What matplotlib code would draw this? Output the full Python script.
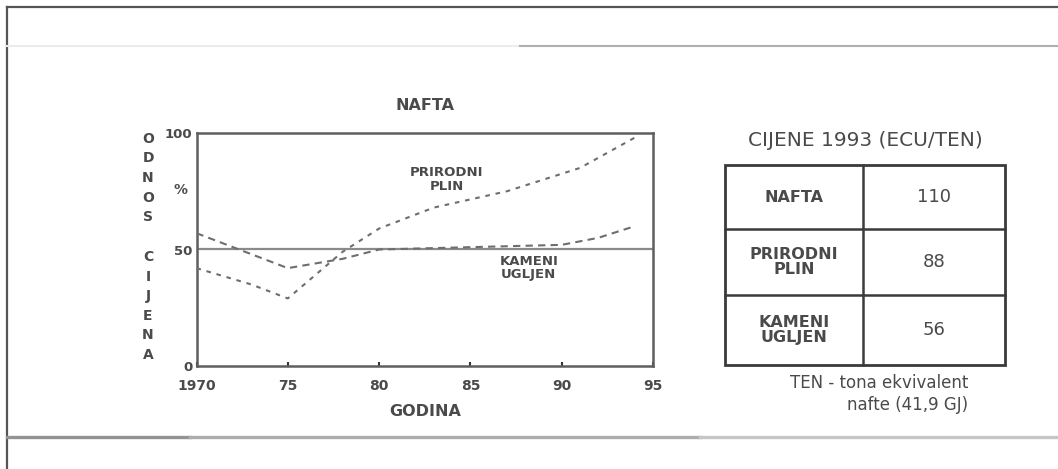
import matplotlib
matplotlib.use("Agg")
import matplotlib.pyplot as plt
from matplotlib.patches import Rectangle

# ---------------- data ----------------
gas_years = [1970, 1973, 1975, 1978, 1980, 1983, 1987, 1991, 1994]
gas_values = [42, 35, 29, 49, 59, 68, 75, 85, 98]

coal_years = [1970, 1972, 1975, 1978, 1980, 1985, 1990, 1992, 1994]
coal_values = [57, 51, 42, 46, 50, 51, 52, 55, 60]

ref_level = 50  # solid reference line

x_ticks = [1970, 1975, 1980, 1985, 1990, 1995]
x_tick_labels = ["1970", "75", "80", "85", "90", "95"]
y_ticks = [0, 50, 100]
y_tick_labels = ["0", "50", "100"]

chart_title = "NAFTA"
x_label = "GODINA"
y_label_top = "ODNOS"
y_label_bottom = "CIJENA"
gas_label = "PRIRODNI\nPLIN"
coal_label = "KAMENI\nUGLJEN"

table_title = "CIJENE 1993 (ECU/TEN)"
table_fuels = ["NAFTA", "PRIRODNI\nPLIN", "KAMENI\nUGLJEN"]
table_prices = ["110", "88", "56"]
table_note_1 = "TEN - tona ekvivalent"
table_note_2 = "nafte (41,9 GJ)"

# ---------------- style ----------------
W, H = 1058, 469
TXT = "#4a4a4a"
LINE = "#6e6e6e"
plt.rcParams["font.family"] = ["DejaVu Sans"]

fig = plt.figure(figsize=(W / 100, H / 100), dpi=100)
fig.patch.set_facecolor("white")

def fx(px):
    return px / W

def fy(py):
    return 1 - py / H

# main chart axes (pixel box 196.5..653 x 133..366)
ax = fig.add_axes([fx(196.5), fy(366), fx(653) - fx(196.5), fy(133) - fy(366)])
ax.set_xlim(1970, 1995)
ax.set_ylim(0, 100)

ax.axhline(ref_level, color="#8a8a8a", lw=1.6, zorder=2)
ax.plot(gas_years, gas_values, color=LINE, lw=1.5, dashes=(2.2, 2.8), zorder=3)
ax.plot(coal_years, coal_values, color=LINE, lw=1.5, dashes=(3.5, 2.5), zorder=3)

for s in ax.spines.values():
    s.set_color("#5e5e5e")
    s.set_linewidth(1.8)

ax.set_xticks(x_ticks)
ax.set_xticklabels(x_tick_labels)
ax.set_yticks(y_ticks)
ax.set_yticklabels(y_tick_labels)
ax.tick_params(axis="x", direction="in", length=3, width=1.5, color="#333333",
               pad=9, labelsize=10, labelcolor=TXT)
ax.tick_params(axis="y", length=0, pad=3, labelsize=9.5, labelcolor=TXT)
for lab in ax.get_xticklabels() + ax.get_yticklabels():
    lab.set_fontweight("bold")

ax.text(1983.7, 80, gas_label, ha="center", va="center", fontsize=9.5,
        fontweight="bold", color=TXT, linespacing=1.1)
ax.text(1988.2, 42, coal_label, ha="center", va="center", fontsize=9.5,
        fontweight="bold", color=TXT, linespacing=1.0)

# overlay in pixel coordinates for frame, labels and table
ov = fig.add_axes([0, 0, 1, 1])
ov.set_xlim(0, W)
ov.set_ylim(H, 0)
ov.axis("off")
ov.patch.set_alpha(0)

# page frame lines
ov.plot([7, W], [7, 7], color="#555555", lw=1.6)
ov.plot([7, 7], [7, H], color="#555555", lw=1.6)
ov.plot([7, 520], [46.5, 46.5], color="#ececec", lw=1.5)
ov.plot([520, W], [46.5, 46.5], color="#b0b0b0", lw=1.5)
ov.plot([7, 190], [437, 437], color="#939393", lw=2.4)
ov.plot([190, 700], [437, 437], color="#adadad", lw=2.4)
ov.plot([700, W], [437, 437], color="#c6c6c6", lw=2.4)

# chart title, axis labels
ov.text(425, 105, chart_title, ha="center", va="center", fontsize=11.5,
        fontweight="bold", color=TXT)
ov.text(425, 411, x_label, ha="center", va="center", fontsize=11.5,
        fontweight="bold", color=TXT)
ov.text(180, 190, "%", ha="center", va="center", fontsize=10,
        fontweight="bold", color=TXT)
for i, ch in enumerate(y_label_top):
    ov.text(148, 139 + i * 19.5, ch, ha="center", va="center", fontsize=10,
            fontweight="bold", color=TXT)
for i, ch in enumerate(y_label_bottom):
    ov.text(148, 257 + i * 19.6, ch, ha="center", va="center", fontsize=10,
            fontweight="bold", color=TXT)

# table
tx0, tx1, txm = 725, 1005, 863
row_edges = [165, 229, 295, 365]
ov.text(865, 140, table_title, ha="center", va="center", fontsize=14.5,
        color=TXT)
ov.add_patch(Rectangle((tx0, row_edges[0]), tx1 - tx0, row_edges[-1] - row_edges[0],
                       fill=False, ec="#3a3a3a", lw=2.0))
ov.plot([txm, txm], [row_edges[0], row_edges[-1]], color="#3a3a3a", lw=1.8)
for yy in row_edges[1:-1]:
    ov.plot([tx0, tx1], [yy, yy], color="#3a3a3a", lw=1.8)
for i, (fuel, price) in enumerate(zip(table_fuels, table_prices)):
    yc = (row_edges[i] + row_edges[i + 1]) / 2
    ov.text((tx0 + txm) / 2, yc, fuel, ha="center", va="center", fontsize=11.5,
            fontweight="bold", color=TXT, linespacing=1.05)
    ov.text((txm + tx1) / 2, yc, price, ha="center", va="center", fontsize=13,
            color=TXT)
ov.text(968, 383, table_note_1, ha="right", va="center", fontsize=12, color=TXT)
ov.text(968, 405, table_note_2, ha="right", va="center", fontsize=12, color=TXT)

fig.savefig("out.png", dpi=100, facecolor="white")
